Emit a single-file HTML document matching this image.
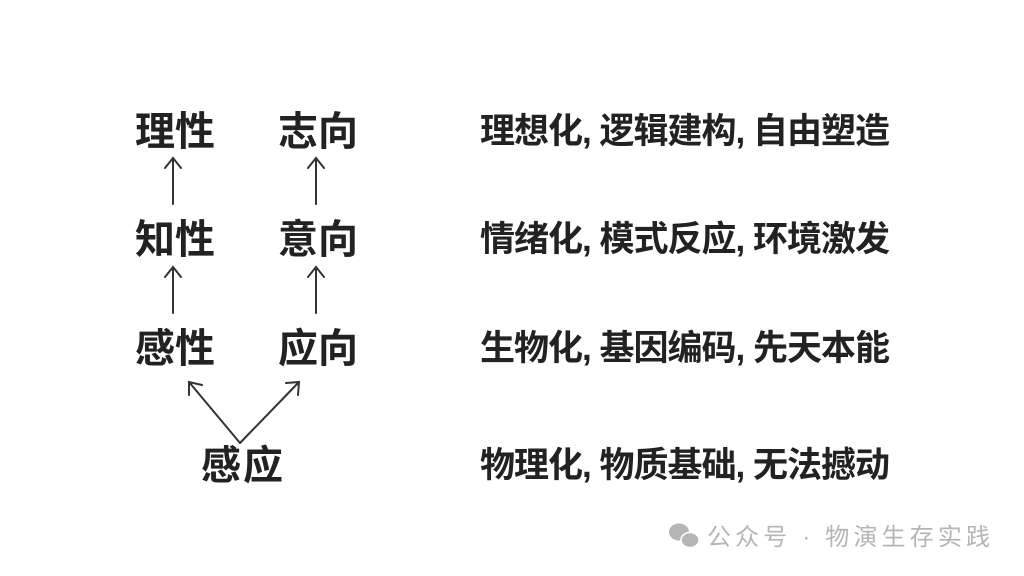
<!DOCTYPE html>
<html><head><meta charset="utf-8"><style>
html,body{margin:0;padding:0;background:#fff;width:1024px;height:576px;overflow:hidden}
</style></head><body>
<svg width="1024" height="576" viewBox="0 0 1024 576" xmlns="http://www.w3.org/2000/svg">
<g font-family="'Liberation Sans','Noto Sans CJK SC',sans-serif" font-weight="bold" fill="#222">
<g font-size="40">
<text x="135" y="145" textLength="80">理性</text>
<text x="278" y="145" textLength="80">志向</text>
<text x="135" y="253" textLength="80">知性</text>
<text x="278" y="253" textLength="80">意向</text>
<text x="135" y="362" textLength="80">感性</text>
<text x="278" y="362" textLength="80">应向</text>
<text x="201" y="479" textLength="82">感应</text>
</g>
<g font-size="35">
<text x="480" y="143" textLength="410">理想化, 逻辑建构, 自由塑造</text>
<text x="480" y="251" textLength="410">情绪化, 模式反应, 环境激发</text>
<text x="480" y="360" textLength="410">生物化, 基因编码, 先天本能</text>
<text x="480" y="477" textLength="410">物理化, 物质基础, 无法撼动</text>
</g>
</g>
<g stroke="#333" stroke-width="2" fill="none" stroke-linecap="round">
<path d="M173 204V158M165 168L173 158L181 168"/>
<path d="M316 204V158M308 168L316 158L324 168"/>
<path d="M173 313V267M165 277L173 267L181 277"/>
<path d="M316 313V267M308 277L316 267L324 277"/>
<path d="M240 443L189 382M189 395L189 382L202 385"/>
<path d="M240 443L299 382M286 383L299 382L298 395"/>
</g>
<g fill="#b5b5b5">
<ellipse cx="679" cy="532" rx="10" ry="8.5"/>
<ellipse cx="690" cy="540" rx="9" ry="7.5" stroke="#fff" stroke-width="1.5"/>
<text x="707" y="545" font-family="'Liberation Sans','Noto Sans CJK SC',sans-serif" font-size="24" textLength="283">公众号 · 物演生存实践</text>
</g>
</svg>
</body></html>
